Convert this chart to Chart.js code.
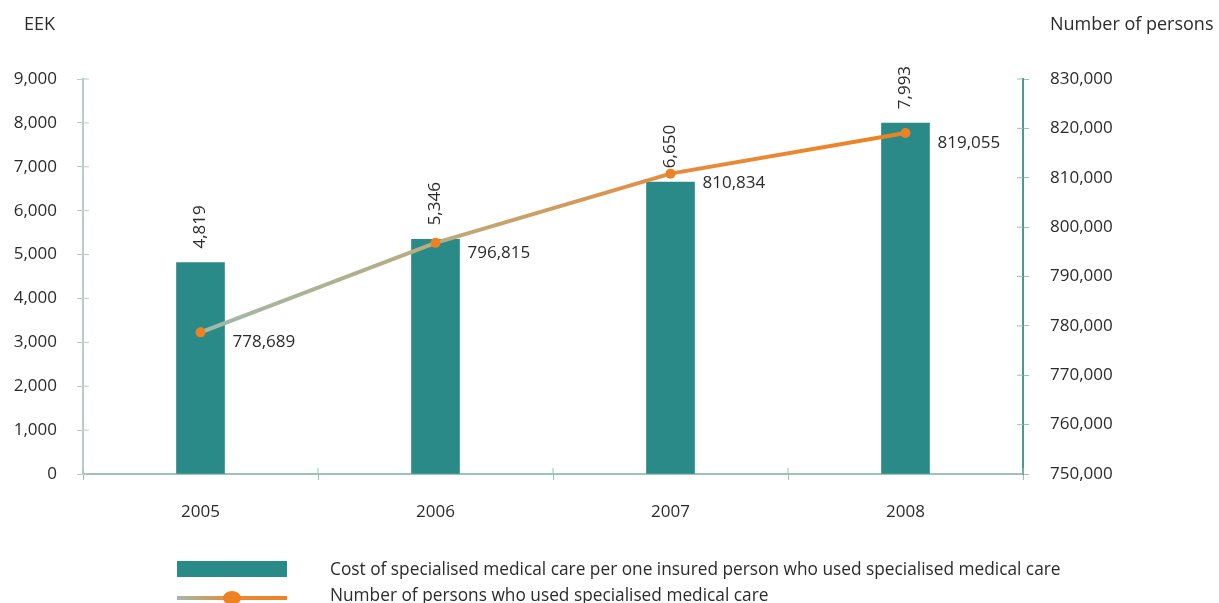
<!DOCTYPE html>
<html>
<head>
<meta charset="utf-8">
<script src="https://cdn.jsdelivr.net/npm/chart.js@4"></script>
<style>
  body { margin: 0; background: #fff; }
  #wrap { width: 1219px; height: 603px; position: relative; }
</style>
</head>
<body>
<div id="wrap"><canvas id="chart"></canvas></div>
<script>
const years = ["2005", "2006", "2007", "2008"];
const costPerPerson = [4819, 5346, 6650, 7993];
const persons = [778689, 796815, 810834, 819055];
const leftTicks = [0, 1000, 2000, 3000, 4000, 5000, 6000, 7000, 8000, 9000];
const rightTicks = [750000, 760000, 770000, 780000, 790000, 800000, 810000, 820000, 830000];
const costLabel = "Cost of specialised medical care per one insured person who used specialised medical care";
const personsLabel = "Number of persons who used specialised medical care";

const FONT = "'Open Sans', 'DejaVu Sans', sans-serif";
const TEXT = "#2b2b2b";
const TEAL = "#2a8a87";
const ORANGE = "#ee8222";

function fmt(v) { return v.toLocaleString("en-US"); }

function lineGradient(ctx) {
  const chart = ctx.chart;
  if (!chart.chartArea) return ORANGE;
  const x = chart.scales.x;
  const x0 = x.getPixelForValue(0), x1 = x.getPixelForValue(3);
  const g = chart.ctx.createLinearGradient(x0, 0, x1, 0);
  g.addColorStop(0, "#9fbaa8");
  g.addColorStop(0.35, "#bcaa7c");
  g.addColorStop(0.7, "#e98a38");
  g.addColorStop(1, ORANGE);
  return g;
}

// value labels, titles, legend, inner tick marks
const extras = {
  id: "extras",
  afterDatasetsDraw(chart) {
    const c = chart.ctx;
    const a = chart.chartArea;
    c.save();

    // tick marks that cross the axes
    c.lineWidth = 1;
    c.strokeStyle = "#b8cfc4";
    chart.scales.y.ticks.forEach(t => {
      const py = chart.scales.y.getPixelForValue(t.value);
      c.beginPath(); c.moveTo(a.left, py); c.lineTo(a.left + 6, py); c.stroke();
    });
    c.strokeStyle = "#9cc3b8";
    chart.scales.y1.ticks.forEach(t => {
      const py = chart.scales.y1.getPixelForValue(t.value);
      c.beginPath(); c.moveTo(a.right - 6, py); c.lineTo(a.right, py); c.stroke();
    });
    const xs = chart.scales.x;
    for (let i = 0; i <= years.length; i++) {
      const px = xs.getPixelForValue(i - 0.5);
      c.beginPath(); c.moveTo(px, a.bottom - 6); c.lineTo(px, a.bottom); c.stroke();
    }

    c.fillStyle = TEXT;
    c.font = "17px " + FONT;

    // bar values, rotated
    chart.getDatasetMeta(0).data.forEach((bar, i) => {
      c.save();
      c.translate(bar.x, bar.y - 14);
      c.rotate(-Math.PI / 2);
      c.textAlign = "left";
      c.textBaseline = "middle";
      c.fillText(fmt(costPerPerson[i]), 0, 0);
      c.restore();
    });

    // line values
    c.textAlign = "left";
    c.textBaseline = "middle";
    chart.getDatasetMeta(1).data.forEach((pt, i) => {
      c.fillText(fmt(persons[i]), pt.x + 32, pt.y + 10);
    });

    // axis titles
    c.font = "18px " + FONT;
    c.fillText("EEK", 24, 25);
    c.fillText("Number of persons", 1050, 25);

    // legend
    c.fillStyle = TEAL;
    c.fillRect(177, 561, 110, 16);
    const g = c.createLinearGradient(177, 0, 287, 0);
    g.addColorStop(0, "#9fbaa8");
    g.addColorStop(0.5, "#e98a38");
    g.addColorStop(1, ORANGE);
    c.strokeStyle = g;
    c.lineWidth = 4;
    c.beginPath();
    c.moveTo(177, 598);
    c.lineTo(287, 598);
    c.stroke();
    c.fillStyle = ORANGE;
    c.beginPath();
    c.ellipse(232, 598, 9, 7, 0, 0, Math.PI * 2);
    c.fill();
    c.fillStyle = TEXT;
    c.font = "17.3px " + FONT;
    c.fillText(costLabel, 330, 570);
    c.fillText(personsLabel, 330, 596);
    c.restore();
  }
};

new Chart(document.getElementById("chart"), {
  data: {
    labels: years,
    datasets: [
      {
        type: "bar",
        label: costLabel,
        data: costPerPerson,
        backgroundColor: TEAL,
        yAxisID: "y",
        barThickness: 48,
        order: 2
      },
      {
        type: "line",
        label: personsLabel,
        data: persons,
        yAxisID: "y1",
        borderColor: lineGradient,
        borderWidth: 4,
        pointRadius: 5,
        pointHoverRadius: 5,
        pointBackgroundColor: ORANGE,
        pointBorderWidth: 0,
        tension: 0,
        order: 1
      }
    ]
  },
  options: {
    responsive: true,
    maintainAspectRatio: false,
    animation: false,
    layout: { padding: { top: 79, left: 0, right: 0, bottom: 0 } },
    plugins: { legend: { display: false }, tooltip: { enabled: false } },
    scales: {
      x: {
        offset: true,
        grid: { offset: true, drawOnChartArea: false, tickLength: 6, color: "#9cc3b8" },
        border: { color: "#9cc3b8", width: 2 },
        ticks: { color: TEXT, font: { family: FONT, size: 17 }, padding: 22 },
        afterFit: s => { s.height = 129; }
      },
      y: {
        position: "left",
        min: 0, max: 9000,
        afterBuildTicks: s => { s.ticks = leftTicks.map(v => ({ value: v })); },
        grid: { drawOnChartArea: false, tickLength: 6, color: "#b8cfc4" },
        border: { color: "#b8cfc4", width: 2 },
        ticks: { color: TEXT, font: { family: FONT, size: 17 }, padding: 20, callback: v => fmt(v) },
        afterFit: s => { s.width = 83; }
      },
      y1: {
        position: "right",
        min: 750000, max: 830000,
        afterBuildTicks: s => { s.ticks = rightTicks.map(v => ({ value: v })); },
        grid: { drawOnChartArea: false, tickLength: 6, color: "#9cc3b8" },
        border: { color: "#4a9a90", width: 2 },
        ticks: { color: TEXT, font: { family: FONT, size: 17 }, padding: 21, callback: v => fmt(v) },
        afterFit: s => { s.width = 196; }
      }
    }
  },
  plugins: [extras]
});
</script>
</body>
</html>
